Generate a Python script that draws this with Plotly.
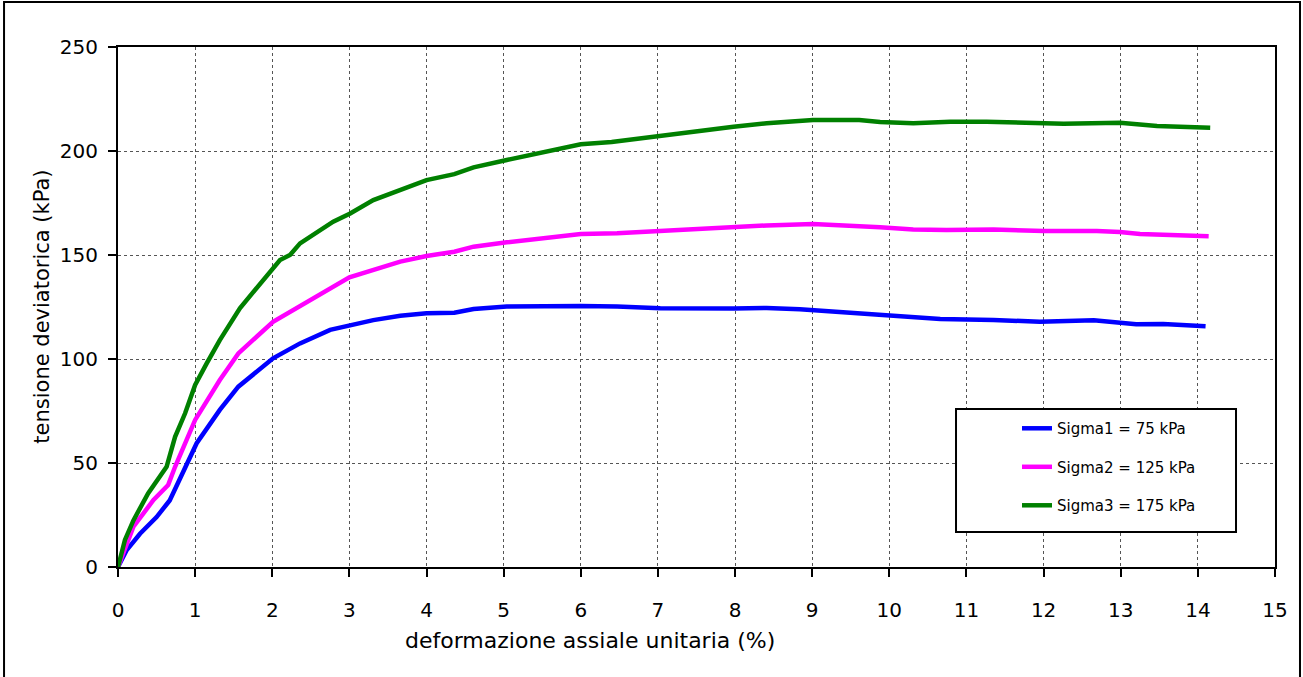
import plotly.graph_objects as go

# curve data (strain %, deviatoric stress kPa)
eps_s1 = [0, 0.11, 0.285, 0.5, 0.67, 0.87, 1.02, 1.32, 1.56, 2.01, 2.36, 2.75, 3.01, 3.31,
          3.66, 4.0, 4.36, 4.61, 5.04, 5.6, 6.0, 6.47, 7.03, 7.98, 8.41, 8.84, 9.27, 9.71,
          10.31, 10.66, 11.35, 11.95, 12.65, 12.99, 13.2, 13.55, 14.1]
q_s1 = [0, 8, 16, 24, 32, 48, 59.5, 75.5, 86.7, 100.3, 107.5, 114, 116.3, 118.7,
        120.8, 122, 122.2, 124, 125.2, 125.6, 125.5, 125.2, 124.4, 124.3, 124.5, 123.9, 122.8, 121.6,
        119.7, 119.2, 118.8, 117.9, 118.6, 117.5, 116.7, 116.8, 115.7]

eps_s2 = [0, 0.2, 0.46, 0.65, 0.74, 0.89, 1.0, 1.32, 1.56, 2.01, 2.49, 3.0, 3.66, 4.0,
          4.36, 4.61, 5.04, 5.45, 6.0, 6.47, 7.03, 7.71, 7.98, 8.41, 9.01, 9.53, 9.88,
          10.31, 10.74, 11.35, 12.0, 12.69, 12.99, 13.25, 13.68, 14.14]
q_s2 = [0, 19.4, 32.2, 39.4, 48.2, 61, 70.7, 89.9, 102.7, 117.9, 128.4, 139.3, 146.8, 149.5,
        151.6, 154, 156.1, 158, 160.1, 160.4, 161.5, 162.8, 163.6, 164.2, 164.9, 164.2, 163.3,
        162.3, 162, 162.3, 161.5, 161.5, 161.1, 160.1, 159.6, 159]

eps_s3 = [0, 0.09, 0.2, 0.39, 0.63, 0.74, 0.87, 1.0, 1.15, 1.32, 1.58, 1.93, 2.1, 2.23,
          2.36, 2.79, 3.01, 3.31, 3.66, 4.0, 4.36, 4.61, 5.04, 5.45, 5.8, 6.0, 6.4, 6.76,
          7.03, 7.55, 7.98, 8.41, 9.01, 9.61, 9.88, 10.31, 10.79, 11.26, 11.69, 12.26,
          12.99, 13.47, 14.16]
q_s3 = [0, 13, 22.4, 35.4, 48.2, 62.6, 73.9, 87.5, 97.9, 109.1, 124.4, 139.6, 147.6, 150,
        155.6, 166, 170, 176.4, 181.5, 186, 188.9, 192.1, 195.7, 198.9, 201.6, 203.2, 204.3, 206.1,
        207.2, 209.8, 211.7, 213.3, 214.9, 214.9, 213.9, 213.3, 214.1, 214.1, 213.6, 213.1,
        213.6, 212, 211.2]

series_names = ['Sigma1 = 75 kPa', 'Sigma2 = 125 kPa', 'Sigma3 = 175 kPa']
series_colors = ['#0000FF', '#FF00FF', '#008000']

x_ticks = list(range(0, 16))
y_ticks = [0, 50, 100, 150, 200, 250]

FONT = 'DejaVu Sans'

fig = go.Figure()
for i, (xs, ys) in enumerate([(eps_s1, q_s1), (eps_s2, q_s2), (eps_s3, q_s3)]):
    fig.add_trace(go.Scatter(
        x=xs, y=ys,
        mode='lines',
        name=series_names[i],
        legendgroup=str(i),
        line=dict(color=series_colors[i], width=4.5),
    ))

axis_common = dict(
    showline=True, linecolor='black', linewidth=2, mirror=True,
    ticks='outside', ticklen=8, tickwidth=2, tickcolor='black',
    showgrid=True, gridcolor='#555555', gridwidth=1, griddash='dot',
    zeroline=False,
    tickfont=dict(family=FONT, size=20, color='black'),
)

fig.update_xaxes(range=[0, 15], tickvals=x_ticks, ticklabelstandoff=16, **axis_common)
fig.update_yaxes(range=[0, 250], tickvals=y_ticks, ticklabelstandoff=6, **axis_common)

# axis titles
fig.add_annotation(text='deformazione assiale unitaria (%)', xref='paper', yref='paper',
                   x=0.408, y=-0.142, showarrow=False, xanchor='center', yanchor='middle',
                   font=dict(family=FONT, size=22, color='black'))
fig.add_annotation(text='tensione deviatorica (kPa)', xref='paper', yref='paper',
                   x=-0.066, y=0.5, textangle=-90, showarrow=False,
                   xanchor='center', yanchor='middle',
                   font=dict(family=FONT, size=21, color='black'))

# legend frame and outer chart frame
fig.add_shape(type='rect', xref='paper', yref='paper', x0=0.7243, x1=0.9663, y0=0.0673, y1=0.3038,
              line=dict(color='black', width=2), fillcolor='white', layer='above')
fig.add_shape(type='rect', xref='paper', yref='paper', x0=-0.0985, x1=1.0216, y0=-0.2135, y1=1.0865,
              line=dict(color='black', width=2))

fig.update_layout(
    width=1303, height=677,
    margin=dict(l=118, r=28, t=47, b=110),
    plot_bgcolor='white', paper_bgcolor='white',
    showlegend=True,
    legend=dict(x=0.777, y=0.298, xanchor='left', yanchor='top',
                bgcolor='rgba(0,0,0,0)', borderwidth=0,
                tracegroupgap=16,
                font=dict(family=FONT, size=15, color='black')),
)

fig.write_html("out.html", config={'displayModeBar': False},
               post_script="document.body.style.margin='0';")
